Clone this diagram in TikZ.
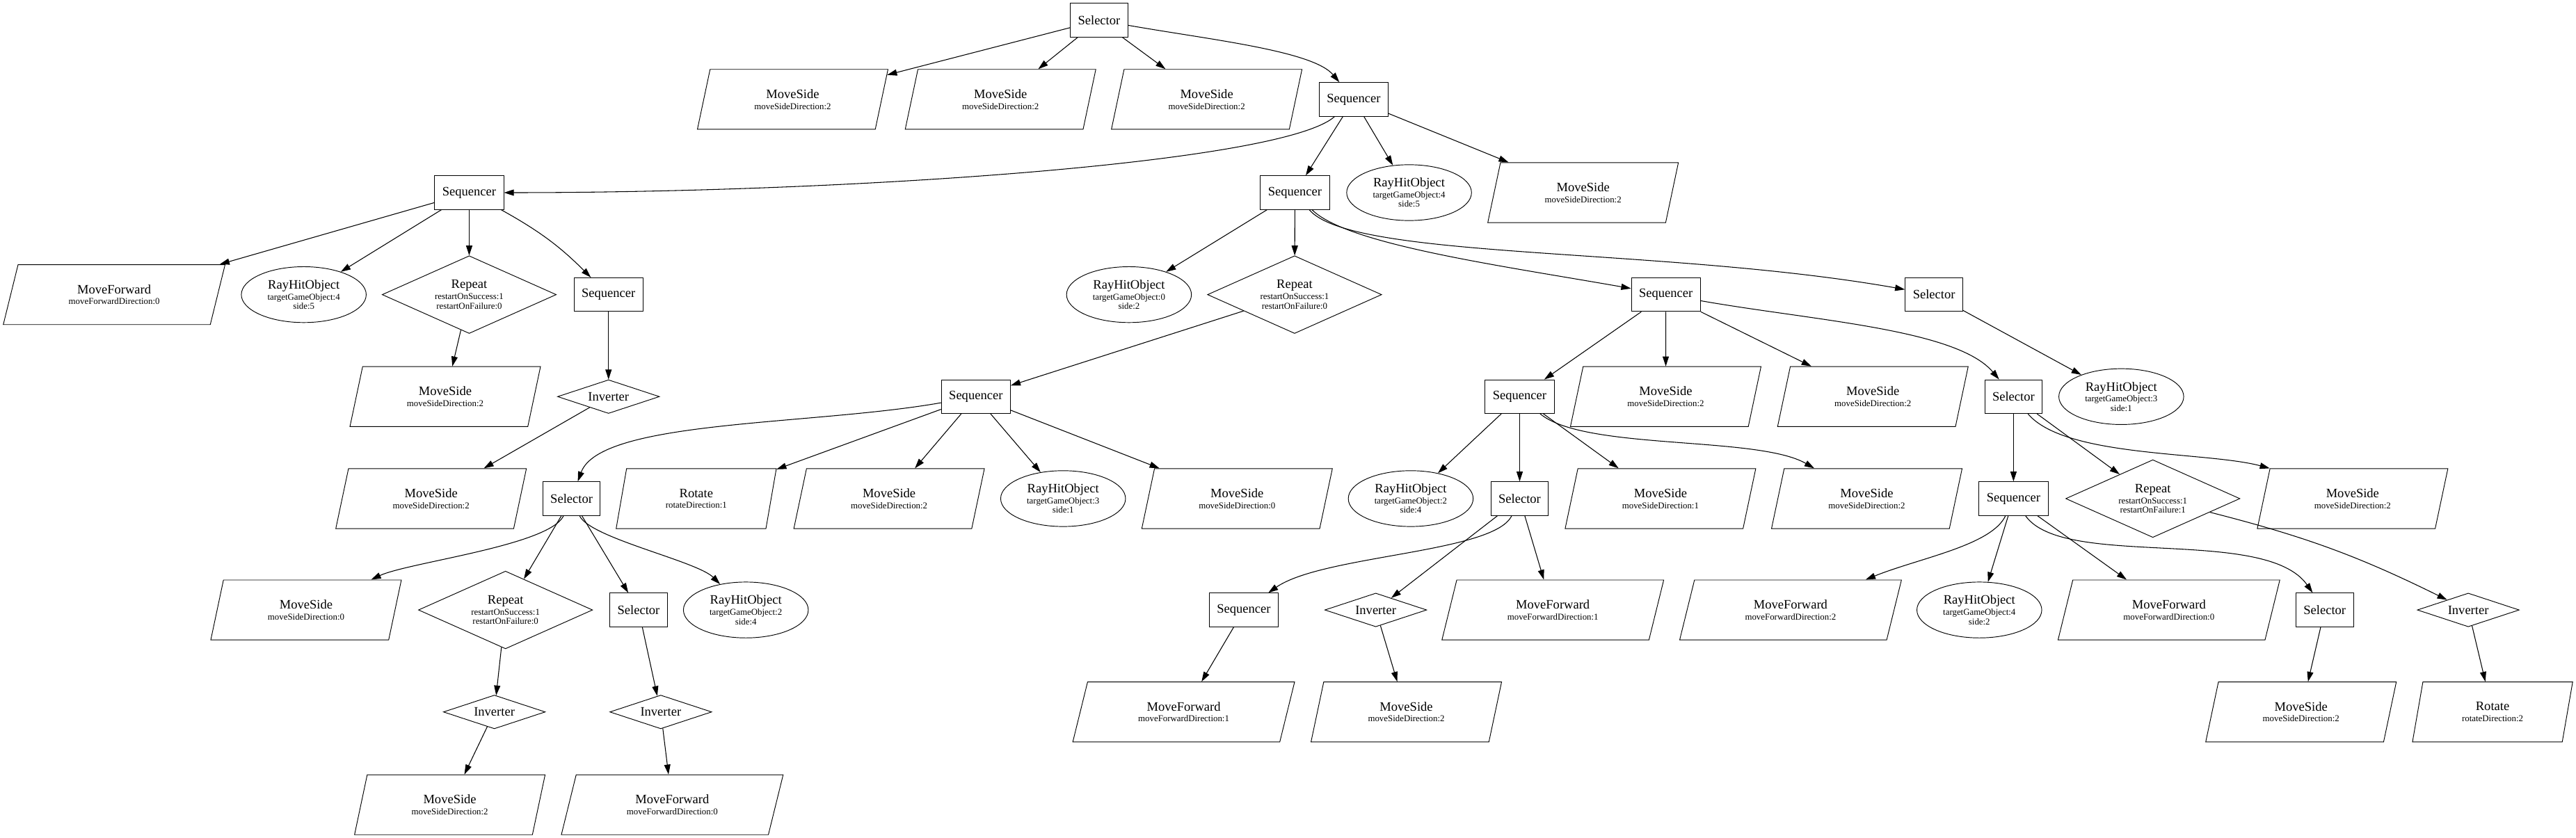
\documentclass[tikz,border=0pt]{standalone}
\usepackage{fontspec}
\setmainfont{Liberation Serif}
\usetikzlibrary{shapes.geometric,arrows.meta}
\newcommand{\mainf}{\fontsize{7.85}{9}\selectfont}
\newcommand{\subf}{\fontsize{5.45}{5.65}\selectfont}
\newcommand{\actlab}[2]{{\mainf #1}\\[1pt]#2}
\newcommand{\condlab}[3]{{\mainf #1}\\[1.1pt]#2\\#3}
\tikzset{
  ctrl/.style={draw, rectangle, font=\mainf, minimum height=20.5pt, inner xsep=4.65pt, inner ysep=0pt},
  inverter/.style={draw, diamond, aspect=3, font=\mainf, inner sep=0pt, minimum width=62pt, minimum height=20.5pt},
  repeatnode/.style={draw, diamond, aspect=2.25, font=\subf, align=center, inner sep=0pt, minimum width=106pt, minimum height=47.3pt},
  raynode/.style={draw, ellipse, font=\subf, align=center, inner sep=0pt, minimum width=76pt, minimum height=34pt},
  action/.style={draw, trapezium, trapezium stretches body, font=\subf, align=center, inner sep=0pt, minimum height=36.5pt},
  moveside/.style={action, trapezium left angle=57.6, trapezium right angle=122.4, minimum width=116pt},
  moveforward/.style={action, trapezium left angle=53.5, trapezium right angle=126.5, minimum width=135pt},
  rotatenode/.style={action, trapezium left angle=61.9, trapezium right angle=118.1, minimum width=97.5pt},
  link/.style={-{Triangle[length=6pt,width=3.8pt]}, line width=0.45pt}
}
\begin{document}
\begin{tikzpicture}[x=1pt, y=1pt]
\useasboundingbox (0,0) rectangle (1568,510);

% root and first rank
\node[ctrl] (s0) at (669,497.7) {Selector};
\node[moveside] (ms1) at (482.5,449.5) {\actlab{MoveSide}{moveSideDirection:2}};
\node[moveside] (ms2) at (609,449.5) {\actlab{MoveSide}{moveSideDirection:2}};
\node[moveside] (ms3) at (734.5,449.5) {\actlab{MoveSide}{moveSideDirection:2}};
\node[ctrl] (sq1) at (824,449.5) {Sequencer};

\node[ctrl] (sqL) at (285.6,392.7) {Sequencer};
\node[ctrl] (sq2) at (788.2,392.7) {Sequencer};
\node[raynode] (rh1) at (857.7,392.7) {\condlab{RayHitObject}{targetGameObject:4}{side:5}};
\node[moveside] (ms4) at (963.6,392.7) {\actlab{MoveSide}{moveSideDirection:2}};

\node[moveforward] (mf1) at (69.5,330.6) {\actlab{MoveForward}{moveForwardDirection:0}};
\node[raynode] (rh2) at (184.9,330.6) {\condlab{RayHitObject}{targetGameObject:4}{side:5}};
\node[repeatnode] (rp1) at (285.6,330.6) {\condlab{Repeat}{restartOnSuccess:1}{restartOnFailure:0}};
\node[ctrl] (sqL4) at (370.4,330.6) {Sequencer};
\node[raynode] (rh3) at (687.2,330.6) {\condlab{RayHitObject}{targetGameObject:0}{side:2}};
\node[repeatnode] (rp2) at (788,330.6) {\condlab{Repeat}{restartOnSuccess:1}{restartOnFailure:0}};
\node[ctrl] (sq3) at (1014,330.6) {Sequencer};
\node[ctrl] (sel3) at (1177.2,330.6) {Selector};

\node[moveside] (ms5) at (271,268.5) {\actlab{MoveSide}{moveSideDirection:2}};
\node[inverter] (inv1) at (370.4,268.5) {Inverter};
\node[ctrl] (sq4) at (594,268.5) {Sequencer};
\node[ctrl] (sq5) at (925,268.5) {Sequencer};
\node[moveside] (ms6) at (1013.9,268.5) {\actlab{MoveSide}{moveSideDirection:2}};
\node[moveside] (ms7) at (1140,268.5) {\actlab{MoveSide}{moveSideDirection:2}};
\node[ctrl] (sel6) at (1225.6,268.5) {Selector};
\node[raynode] (rh4) at (1291.2,268.5) {\condlab{RayHitObject}{targetGameObject:3}{side:1}};

\node[moveside] (ms8) at (262.4,206.4) {\actlab{MoveSide}{moveSideDirection:2}};
\node[ctrl] (sel5) at (347.9,206.4) {Selector};
\node[rotatenode] (rt1) at (423.8,206.4) {\actlab{Rotate}{rotateDirection:1}};
\node[moveside] (ms9) at (541.2,206.4) {\actlab{MoveSide}{moveSideDirection:2}};
\node[raynode] (rh5) at (647.1,206.4) {\condlab{RayHitObject}{targetGameObject:3}{side:1}};
\node[moveside] (ms10) at (753,206.4) {\actlab{MoveSide}{moveSideDirection:0}};
\node[raynode] (rh6) at (858.7,206.4) {\condlab{RayHitObject}{targetGameObject:2}{side:4}};
\node[ctrl] (sel7) at (925,206.4) {Selector};
\node[moveside] (ms11) at (1010.7,206.4) {\actlab{MoveSide}{moveSideDirection:1}};
\node[moveside] (ms12) at (1136.3,206.4) {\actlab{MoveSide}{moveSideDirection:2}};
\node[ctrl] (sq6) at (1225.6,206.4) {Sequencer};
\node[repeatnode] (rp3) at (1310.4,206.4) {\condlab{Repeat}{restartOnSuccess:1}{restartOnFailure:1}};
\node[moveside] (ms13) at (1432,206.4) {\actlab{MoveSide}{moveSideDirection:2}};

\node[moveside] (ms14) at (186.3,138.6) {\actlab{MoveSide}{moveSideDirection:0}};
\node[repeatnode] (rp4) at (307.7,138.6) {\condlab{Repeat}{restartOnSuccess:1}{restartOnFailure:0}};
\node[ctrl] (sel8) at (388.7,138.6) {Selector};
\node[raynode] (rh7) at (454,138.6) {\condlab{RayHitObject}{targetGameObject:2}{side:4}};
\node[ctrl] (sq7) at (757.1,138.6) {Sequencer};
\node[inverter] (inv2) at (837.4,138.6) {Inverter};
\node[moveforward] (mf2) at (945.2,138.6) {\actlab{MoveForward}{moveForwardDirection:1}};
\node[moveforward] (mf3) at (1089.9,138.6) {\actlab{MoveForward}{moveForwardDirection:2}};
\node[raynode] (rh8) at (1204.8,138.6) {\condlab{RayHitObject}{targetGameObject:4}{side:2}};
\node[moveforward] (mf4) at (1320.2,138.6) {\actlab{MoveForward}{moveForwardDirection:0}};
\node[ctrl] (sel9) at (1415,138.6) {Selector};
\node[inverter] (inv3) at (1502.4,138.6) {Inverter};

\node[inverter] (inv4) at (300.9,76.5) {Inverter};
\node[inverter] (inv5) at (402.2,76.5) {Inverter};
\node[moveforward] (mf5) at (720.5,76.5) {\actlab{MoveForward}{moveForwardDirection:1}};
\node[moveside] (ms15) at (856,76.5) {\actlab{MoveSide}{moveSideDirection:2}};
\node[moveside] (ms16) at (1400.6,76.5) {\actlab{MoveSide}{moveSideDirection:2}};
\node[rotatenode] (rt2) at (1517.2,76.5) {\actlab{Rotate}{rotateDirection:2}};

\node[moveside] (ms17) at (273.8,20) {\actlab{MoveSide}{moveSideDirection:2}};
\node[moveforward] (mf6) at (409.2,20) {\actlab{MoveForward}{moveForwardDirection:0}};

% connectors
\draw[link] (s0) -- (ms1);
\draw[link] (s0) -- (ms2);
\draw[link] (s0) -- (ms3);
\draw[link] (s0) to[out=-10, in=130, out distance=50pt, in distance=25pt] (sq1);

\draw[link] (sq1) to[out=-138, in=0, out distance=42pt, in distance=213pt] (sqL);
\draw[link] (sq1) -- (sq2);
\draw[link] (sq1) -- (rh1);
\draw[link] (sq1) -- (ms4);

\draw[link] (sqL) -- (mf1);
\draw[link] (sqL) -- (rh2);
\draw[link] (sqL) -- (rp1);
\draw[link] (sqL) to[bend left=8] (sqL4);
\draw[link] (rp1) -- (ms5);
\draw[link] (sqL4) -- (inv1);
\draw[link] (inv1) -- (ms8);

\draw[link] (sq2) -- (rh3);
\draw[link] (sq2) -- (rp2);
\draw[link] (sq2) to[out=-45, in=170, out distance=30pt, in distance=80pt] (sq3);
\draw[link] (sq2) to[out=-50, in=170, out distance=40pt, in distance=150pt] (sel3);
\draw[link] (rp2) -- (sq4);

\draw[link] (sq4) to[out=190, in=70, out distance=80pt, in distance=40pt] (sel5);
\draw[link] (sq4) -- (rt1);
\draw[link] (sq4) -- (ms9);
\draw[link] (sq4) -- (rh5);
\draw[link] (sq4) -- (ms10);

\draw[link] (sel5) to[out=-115, in=25, out distance=20pt, in distance=25pt] (ms14);
\draw[link] (sel5) -- (rp4);
\draw[link] (sel5) -- (sel8);
\draw[link] (sel5) to[out=-65, in=135, out distance=15pt, in distance=20pt] (rh7);
\draw[link] (rp4) -- (inv4);
\draw[link] (inv4) -- (ms17);
\draw[link] (sel8) -- (inv5);
\draw[link] (inv5) -- (mf6);

\draw[link] (sq3) -- (sq5);
\draw[link] (sq3) -- (ms6);
\draw[link] (sq3) -- (ms7);
\draw[link] (sq3) to[out=-10, in=130, out distance=70pt, in distance=40pt] (sel6);

\draw[link] (sq5) -- (rh6);
\draw[link] (sq5) -- (sel7);
\draw[link] (sq5) -- (ms11);
\draw[link] (sq5) to[out=-40, in=150, out distance=35pt, in distance=40pt] (ms12);

\draw[link] (sel7) to[out=-115, in=35, out distance=25pt, in distance=40pt] (sq7);
\draw[link] (sel7) -- (inv2);
\draw[link] (sel7) -- (mf2);
\draw[link] (sq7) -- (mf5);
\draw[link] (inv2) -- (ms15);

\draw[link] (sel3) -- (rh4);

\draw[link] (sel6) -- (sq6);
\draw[link] (sel6) -- (rp3);
\draw[link] (sel6) to[out=-50, in=165, out distance=35pt, in distance=40pt] (ms13.top left corner);

\draw[link] (sq6) to[out=-115, in=22, out distance=20pt, in distance=35pt] (mf3);
\draw[link] (sq6) -- (rh8);
\draw[link] (sq6) -- (mf4);
\draw[link] (sq6) to[out=-55, in=125, out distance=40pt, in distance=50pt] (sel9);
\draw[link] (sel9) -- (ms16);

\draw[link] (rp3) to[bend left=6] (inv3);
\draw[link] (inv3) -- (rt2);
\end{tikzpicture}
\end{document}
